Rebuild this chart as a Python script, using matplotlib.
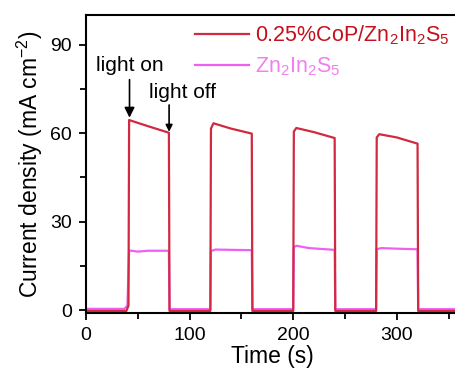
import matplotlib
matplotlib.use('Agg')
import matplotlib.pyplot as plt
from matplotlib.ticker import MultipleLocator

plt.rcParams['font.family'] = ['Liberation Sans', 'DejaVu Sans']
plt.rcParams['mathtext.fontset'] = 'custom'
plt.rcParams['mathtext.rm'] = 'Liberation Sans'

# time (s) and current density (mA cm-2)
cop_t = [0, 39, 41, 41.6, 60, 80, 80.6, 120, 120.6, 123, 140, 160, 160.6,
         200, 200.6, 203, 220, 240, 240.6, 280, 280.6, 283, 300, 320, 320.6, 360]
cop_j = [-0.3, -0.3, 1.5, 64.4, 62.3, 60.1, -0.3, -0.3, 61.5, 63.3, 61.5, 59.8, -0.3,
         -0.3, 60.5, 61.7, 60.3, 58.3, -0.3, -0.3, 58.5, 59.6, 58.5, 56.4, -0.3, -0.3]

zis_t = [0, 37, 40, 41.6, 50, 60, 80, 80.6, 120, 120.6, 125, 140, 160, 160.6,
         200, 200.6, 203, 215, 240, 240.6, 280, 280.6, 285, 300, 320, 320.6, 360]
zis_j = [0.4, 0.4, 1.5, 20.2, 19.8, 20.1, 20.1, 0.3, 0.3, 20, 20.5, 20.4, 20.3, 0.3,
         0.3, 21.3, 21.8, 21, 20.4, 0.3, 0.3, 20.6, 21, 20.8, 20.6, 0.3, 0.3]

labels = ['0.25%CoP/$\\mathregular{Zn_2In_2S_5}$', '$\\mathregular{Zn_2In_2S_5}$']
line_colors = ['#d02a40', '#f060f0']
text_colors = ['#c4101c', '#f27ef0']

fig = plt.figure(figsize=(4.55, 3.75), dpi=100)
ax = fig.add_axes([86 / 455, 62 / 375, 373 / 455, 298 / 375])

l2, = ax.plot(zis_t, zis_j, color=line_colors[1], lw=1.6, label=labels[1])
l1, = ax.plot(cop_t, cop_j, color=line_colors[0], lw=1.6, label=labels[0])

ax.set_xlim(0, 360)
ax.set_ylim(-1, 100)
ax.xaxis.set_major_locator(MultipleLocator(100))
ax.xaxis.set_minor_locator(MultipleLocator(50))
ax.yaxis.set_major_locator(MultipleLocator(30))
ax.yaxis.set_minor_locator(MultipleLocator(15))
ax.tick_params(which='both', direction='out', width=1.3, labelsize=14, pad=5)
ax.tick_params(which='major', length=5)
ax.tick_params(which='minor', length=4)
for s in ax.spines.values():
    s.set_linewidth(1.5)
ax.spines['right'].set_visible(False)

ax.set_xlabel('Time (s)', fontsize=16.5, labelpad=1)
ax.set_ylabel('Current density (mA cm$^{-2}$)', fontsize=16.5, labelpad=4)

leg = ax.legend(handles=[l1, l2], loc='upper left', bbox_to_anchor=(0.292, 0.972),
                frameon=False, fontsize=15.5, handlelength=2.5, handletextpad=0.3,
                labelspacing=0.4, borderpad=0, borderaxespad=0,
                labelcolor=text_colors)

# light on / light off arrows
ax.annotate('light on', xy=(42, 65.2), xytext=(42, 79.5), fontsize=15,
            ha='center', va='bottom',
            arrowprops=dict(arrowstyle='-|>', color='black', lw=1.2, shrinkA=1, shrinkB=0))
ax.annotate('light off', xy=(80.2, 60.4), xytext=(93.5, 70.5), fontsize=15,
            ha='center', va='bottom', color='black')
ax.annotate('', xy=(80.2, 60.4), xytext=(80.2, 69.5),
            arrowprops=dict(arrowstyle='-|>', color='black', lw=1.2, shrinkA=0, shrinkB=0))

plt.savefig('out.png', dpi=100)
